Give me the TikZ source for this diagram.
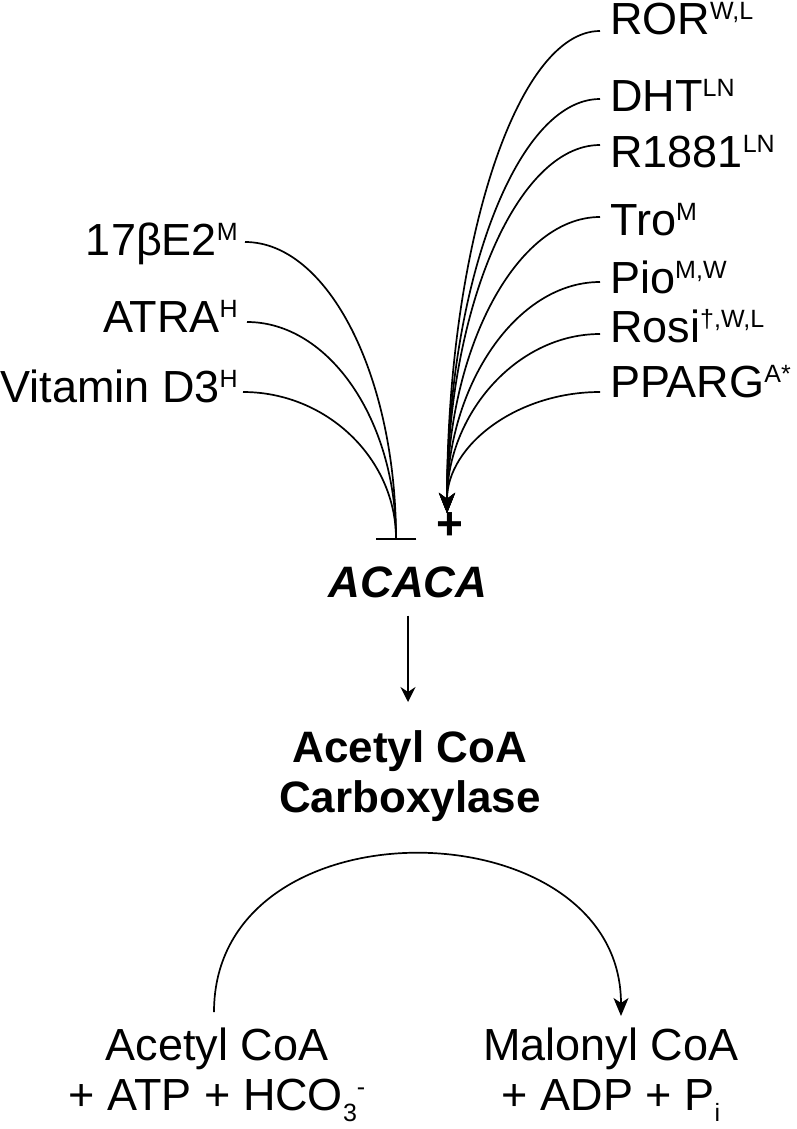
\documentclass[tikz,border=0pt]{standalone}
\usepackage{fontspec}
\setmainfont{Liberation Sans}
\usetikzlibrary{arrows.meta}
\newcommand{\supx}[1]{\raisebox{15pt}{\fontsize{25}{25}\selectfont #1}}
\newcommand{\subx}[1]{\raisebox{-11pt}{\fontsize{25}{25}\selectfont #1}}
\tikzset{
  lab/.style={inner sep=0pt, font=\fontsize{45}{50}\selectfont},
  boldlab/.style={inner sep=0pt, align=center, font=\fontsize{44}{50}\selectfont\bfseries},
  conn/.style={line width=1.7pt},
  act/.style={conn, -{Stealth[length=20pt,width=16pt,inset=6pt]}},
  inh/.style={conn, -{Bar[width=40pt]}},
}
\begin{document}
\begin{tikzpicture}[x=1pt,y=-1pt]
\useasboundingbox (0,0) rectangle (796,1129);
% right (activating) labels
\node[lab, anchor=base west] (ror) at (610,35) {ROR\supx{W,L}};
\node[lab, anchor=base west] (dht) at (610,112) {DHT\supx{LN}};
\node[lab, anchor=base west] (r1881) at (610,167) {R1881\supx{LN}};
\node[lab, anchor=base west] (tro) at (610,235) {Tro\supx{M}};
\node[lab, anchor=base west] (pio) at (610,293) {Pio\supx{M,W}};
\node[lab, anchor=base west] (rosi) at (610,342) {Rosi\supx{†,W,L}};
\node[lab, anchor=base west] (pparg) at (610,397) {PPARG\supx{A*}};
% left (inhibiting) labels
\node[lab, anchor=base east] (e2) at (238,255) {17βE2\supx{M}};
\node[lab, anchor=base east] (atra) at (238,332) {ATRA\supx{H}};
\node[lab, anchor=base east] (vitd) at (238,402) {Vitamin D3\supx{H}};
% line ends
\coordinate (rorE) at (600,31);
\coordinate (dhtE) at (600,99);
\coordinate (r1881E) at (600,145);
\coordinate (troE) at (600,217);
\coordinate (pioE) at (600,282);
\coordinate (rosiE) at (600,334);
\coordinate (ppargE) at (600,392);
\coordinate (e2E) at (245,242);
\coordinate (atraE) at (247,322);
\coordinate (vitdE) at (243,392);
\coordinate (tipR) at (447,513);
\coordinate (barL) at (396,540);
% plus sign and gene
\node[inner sep=0pt, font=\fontsize{46}{46}\selectfont\bfseries] (plus) at (450,526) {+};
\node[inner sep=0pt, anchor=base, font=\fontsize{44}{50}\selectfont\bfseries\itshape] (acaca) at (408,597) {ACACA};
% activating curves
\draw[act] (rorE) .. controls +(-84,0) and +(0,-265) .. (tipR);
\draw[act] (dhtE) .. controls +(-84,0) and +(0,-228) .. (tipR);
\draw[act] (r1881E) .. controls +(-84,0) and +(0,-202) .. (tipR);
\draw[act] (troE) .. controls +(-84,0) and +(0,-163) .. (tipR);
\draw[act] (pioE) .. controls +(-84,0) and +(0,-127) .. (tipR);
\draw[act] (rosiE) .. controls +(-84,0) and +(0,-98) .. (tipR);
\draw[act] (ppargE) .. controls +(-84,0) and +(0,-67) .. (tipR);
% inhibiting curves
\draw[inh] (e2E) .. controls +(83,0) and +(0,-164) .. (barL);
\draw[inh] (atraE) .. controls +(82,0) and +(0,-120) .. (barL);
\draw[inh] (vitdE) .. controls +(84,0) and +(0,-81) .. (barL);
% enzyme
\node[boldlab, anchor=north] (acc) at (410,730) {Acetyl CoA\\Carboxylase};
\draw[conn, line width=1.5pt, -{Stealth[length=15pt,width=15pt,inset=5pt]}, shorten <=18pt, shorten >=28pt] (acaca.south) -- (acaca.south |- acc.north);
% reaction
\node[lab, align=center, anchor=north] (sub) at (217,1028) {Acetyl CoA\\+ ATP + HCO\subx{3}\supx{-}};
\node[lab, align=center, anchor=north] (prod) at (611,1028) {Malonyl CoA\\+ ADP + P\subx{i}};
\draw[conn, -{Stealth[length=18pt,width=15pt,inset=5pt]}] ([xshift=-3pt,yshift=16pt]sub.north) .. controls +(0,-215) and +(0,-211) .. ([xshift=10pt,yshift=12pt]prod.north);
\end{tikzpicture}
\end{document}
